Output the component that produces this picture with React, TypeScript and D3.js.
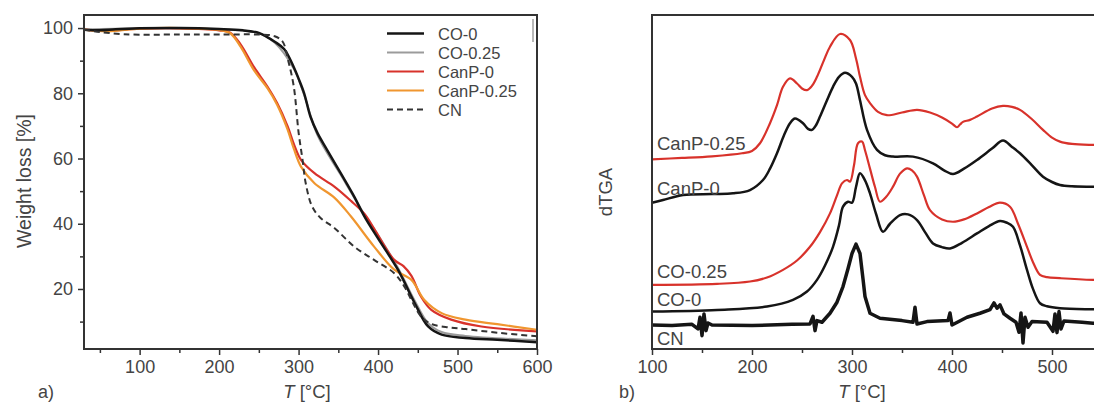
import React, { useEffect, useRef } from 'react';
import * as d3 from 'd3';

// a) weight loss [%] vs T [°C]
const co0Tga = [
  [30, 99.5], [50, 99.3], [70, 99.6], [100, 99.9], [150, 100], [200, 99.7], [230, 99.3],
  [250, 98.5], [260, 97.3], [270, 95.8], [282, 93.5], [294, 88], [300, 84.5], [307, 80],
  [315, 72.8], [324, 67.7], [336, 62.6], [353, 55.5], [370, 48.3], [383, 42.2], [400, 35.5],
  [425, 25.9], [446, 15.7], [463, 8.5], [480, 6.0], [510, 5.0], [550, 4.4], [600, 3.7],
];
const co025Tga = [
  [30, 99.5], [100, 99.9], [200, 99.6], [250, 98.4], [270, 95.5], [294, 87.5], [307, 79.5],
  [324, 67], [353, 55], [383, 42.8], [400, 36.5], [425, 26.5], [446, 16.5], [463, 9.5],
  [480, 6.8], [510, 5.6], [600, 4.3],
];
const canp0Tga = [
  [30, 99.5], [60, 99.2], [100, 99.8], [150, 99.9], [200, 99.3], [214, 98.6], [227, 95],
  [244, 88], [261, 82], [273, 77], [286, 70], [294, 64.5], [303, 59.6], [320, 55.5],
  [345, 51.4], [366, 47], [383, 43], [395, 38.5], [420, 29], [432, 27], [442, 24],
  [454, 17.7], [467, 13.6], [492, 10.6], [530, 8.5], [600, 7.0],
];
const canp025Tga = [
  [30, 99.5], [60, 99], [100, 99.8], [150, 100], [200, 99.4], [214, 98.4], [227, 94.3],
  [244, 87], [261, 81.5], [273, 76.5], [286, 69], [294, 63], [303, 57.5], [320, 52.4],
  [345, 48], [366, 42.2], [395, 33], [420, 26], [442, 22.8], [458, 16.7], [480, 12.6],
  [510, 10.6], [550, 9.2], [600, 7.5],
];
const cnTga = [
  [30, 99.5], [50, 98.8], [80, 98.1], [150, 98], [200, 98], [250, 98], [270, 97.5],
  [280, 95.8], [287, 90], [294, 82], [300, 68], [305, 59.6], [309, 52.4], [317, 45.3],
  [328, 41.7], [345, 38.7], [370, 33], [395, 28.9], [420, 24.9], [433, 20.8], [444, 15.7],
  [454, 11.6], [467, 9.3], [490, 8.2], [510, 7.7], [550, 6.6], [600, 5.5],
];

// b) dTGA, offset curves (arbitrary units, 0 = bottom of frame, 100 = top)
const canp025Dtg = [
  [100, 56.8], [130, 57.2], [160, 57.7], [190, 58.6], [200, 59.3], [208, 61.6], [218, 67.6],
  [225, 73], [231, 78.5], [238, 81], [245, 79.5], [250, 78], [255, 77.5], [260, 78.8],
  [265, 81.5], [272, 86.5], [278, 90.5], [288, 94.3], [298, 92.5], [304, 87], [308, 81.5],
  [313, 76], [318, 73.6], [326, 71], [335, 70], [350, 70.8], [365, 71.6], [378, 70.8],
  [390, 69.3], [400, 67.5], [405, 66.4], [408, 67.2], [411, 68], [418, 68.6], [425, 69.6],
  [440, 72], [451, 72.8], [460, 72.5], [468, 71.6], [480, 68.8], [491, 65.6], [500, 63.3],
  [508, 62.1], [520, 61.4], [541, 61.1], [600, 61],
];
const canp0Dtg = [
  [100, 43.8], [111, 44.6], [131, 46.1], [160, 46.4], [181, 46.6], [198, 47.6], [211, 50.6],
  [218, 54], [225, 58.6], [232, 64], [238, 67.6], [243, 69], [251, 67.6], [256, 65.9],
  [260, 65.6], [264, 67], [268, 69.6], [275, 74.5], [281, 78.5], [287, 81.5], [293, 82.7],
  [300, 81.5], [304, 79.5], [308, 74.5], [315, 65.6], [325, 59.6], [333, 58], [341, 57.6],
  [361, 57.6], [381, 55.6], [392, 53.5], [401, 52.4], [412, 54], [425, 56.6], [440, 60],
  [451, 62.4], [460, 60.5], [468, 58.6], [480, 55], [491, 51.6], [500, 50], [508, 49.1],
  [520, 48.7], [541, 48.6], [600, 48.6],
];
const co025Dtg = [
  [100, 19.2], [165, 19.5], [198, 20.2], [215, 21.4], [231, 23.7], [245, 26.5], [258, 30.6],
  [268, 35], [278, 40.6], [285, 46], [290, 49.6], [295, 50.6], [298, 50.1], [302, 55],
  [306, 61.6], [310, 62.1], [313, 59.5], [318, 54], [323, 48.5], [328, 44.1], [334, 45.5],
  [341, 48.6], [348, 52.5], [355, 54.1], [360, 53.5], [365, 51.6], [372, 46], [378, 41.6],
  [390, 38.8], [401, 38.1], [412, 38.8], [425, 40.6], [437, 42.5], [448, 43.8], [458, 42.6],
  [466, 37.5], [475, 30.6], [481, 26], [488, 22.2], [495, 21.5], [508, 21.2], [541, 20.7],
  [600, 20.6],
];
const co0Dtg = [
  [100, 11.2], [165, 11.7], [215, 12.7], [241, 14.7], [255, 17.2], [265, 20.7], [273, 25],
  [281, 30.6], [287, 37], [291, 42.6], [296, 44.1], [300, 43.8], [304, 48.5], [308, 52.6],
  [313, 50.5], [318, 46.6], [324, 40.5], [331, 35.1], [338, 37.5], [348, 40.1], [356, 40.3],
  [365, 38.6], [373, 35], [381, 31.6], [390, 30.5], [398, 30.1], [410, 31.8], [425, 34.6],
  [437, 36.8], [448, 38.3], [455, 37.8], [461, 36.6], [468, 31], [475, 23.7], [481, 18],
  [488, 13.7], [495, 12.8], [508, 12.2], [541, 11.9], [600, 11.8],
];
// noisy trace, spikes
const cnDtg = [
  [100, 7.2], [120, 7.0], [140, 7.4], [146, 6.0], [148, 9.5], [150, 4.0], [152, 10.5],
  [154, 5.5], [156, 7.8], [160, 7.2], [200, 7.0], [240, 7.4], [258, 7.5], [261, 9.8],
  [263, 5.5], [265, 8.5], [270, 8.0], [278, 10.7], [285, 14], [291, 18.7], [296, 24],
  [300, 28.6], [304, 31.4], [308, 28.6], [311, 21], [313, 15.7], [318, 10.7], [328, 9.2],
  [350, 8.5], [361, 8.0], [363, 12.5], [365, 7.5], [375, 8.2], [396, 8.5], [398, 10.8],
  [400, 7.2], [415, 9.5], [428, 10.7], [438, 11.8], [442, 13.8], [445, 12.2], [448, 13.2],
  [452, 10.5], [458, 9.2], [464, 8.0], [467, 5.0], [469, 10.8], [471, 1.8], [473, 9.5],
  [476, 6.5], [480, 8.2], [495, 8.0], [501, 5.3], [503, 10.5], [505, 4.9], [507, 11.2],
  [509, 6.0], [512, 8.4], [530, 8.0], [541, 7.7], [600, 7.7],
];

const tgaXTicks = [100, 200, 300, 400, 500, 600];
const tgaXMinor = [50, 150, 250, 350, 450, 550];
const tgaYTicks = [20, 40, 60, 80, 100];
const tgaYMinor = [10, 30, 50, 70, 90];
const dtgXTicks = [100, 200, 300, 400, 500];
const dtgXMinor = [150, 250, 350, 450, 550];

const legendNames = ['CO-0', 'CO-0.25', 'CanP-0', 'CanP-0.25', 'CN'];
const dtgNames = ['CanP-0.25', 'CanP-0', 'CO-0.25', 'CO-0', 'CN'];

const FONT = '"Liberation Sans", Arial, sans-serif';
const TXT = '#444';
const AX = '#333';
const BLACK = '#151515';
const GRAY = '#9b9b9b';
const RED = '#d8322b';
const ORANGE = '#f0962f';

export default function App() {
  const ref = useRef(null);

  useEffect(() => {
    const svg = d3.select(ref.current);
    svg.selectAll('*').remove();
    drawTga(svg);
    drawDtg(svg);
  });

  return (
    <svg
      ref={ref}
      width={1094}
      height={403}
      style={{ position: 'absolute', left: 0, top: 0, background: '#fff' }}
    />
  );
}

function styleAxis(g) {
  g.select('.domain').remove();
  g.selectAll('line').attr('stroke', AX).attr('stroke-width', 1.5);
  g.selectAll('text').attr('fill', TXT).attr('font-size', 18).attr('font-family', FONT);
}

function drawTga(svg) {
  const left = 84, right = 537, top = 15, bottom = 349;
  const x = d3.scaleLinear([30, 600], [left, right]);
  const y = d3.scaleLinear([1.6, 104], [bottom, top]);

  const g = svg.append('g');

  g.append('g')
    .attr('transform', `translate(0,${bottom})`)
    .call(d3.axisBottom(x).tickValues(tgaXMinor).tickSize(4).tickFormat(() => ''))
    .call(styleAxis);
  g.append('g')
    .attr('transform', `translate(0,${bottom})`)
    .call(d3.axisBottom(x).tickValues(tgaXTicks).tickSize(6).tickPadding(5))
    .call(styleAxis);
  g.append('g')
    .attr('transform', `translate(${left},0)`)
    .call(d3.axisLeft(y).tickValues(tgaYMinor).tickSize(4).tickFormat(() => ''))
    .call(styleAxis);
  g.append('g')
    .attr('transform', `translate(${left},0)`)
    .call(d3.axisLeft(y).tickValues(tgaYTicks).tickSize(6).tickPadding(5))
    .call(styleAxis);

  const line = d3
    .line()
    .curve(d3.curveCatmullRom.alpha(0.5))
    .x((d) => x(d[0]))
    .y((d) => y(d[1]));

  const series = [
    { data: co025Tga, color: GRAY, width: 2, dash: null },
    { data: canp0Tga, color: RED, width: 2.2, dash: null },
    { data: canp025Tga, color: ORANGE, width: 2.2, dash: null },
    { data: co0Tga, color: BLACK, width: 2.5, dash: null },
    { data: cnTga, color: '#333', width: 2, dash: '6,4' },
  ];
  series.forEach((s) => {
    g.append('path')
      .attr('fill', 'none')
      .attr('stroke', s.color)
      .attr('stroke-width', s.width)
      .attr('stroke-dasharray', s.dash)
      .attr('stroke-linejoin', 'round')
      .attr('d', line(s.data));
  });

  g.append('rect')
    .attr('x', left)
    .attr('y', top)
    .attr('width', right - left)
    .attr('height', bottom - top)
    .attr('fill', 'none')
    .attr('stroke', AX)
    .attr('stroke-width', 2);

  // legend
  const legendColors = [BLACK, GRAY, RED, ORANGE, '#333'];
  const leg = g.append('g').attr('transform', 'translate(387,33.5)');
  legendNames.forEach((name, i) => {
    const row = leg.append('g').attr('transform', `translate(0,${i * 19})`);
    row.append('line')
      .attr('x1', 0)
      .attr('x2', 37)
      .attr('stroke', legendColors[i])
      .attr('stroke-width', i === 0 ? 2.5 : 2)
      .attr('stroke-dasharray', i === 4 ? '6,4' : null);
    row.append('text')
      .attr('x', 51)
      .attr('y', 6)
      .attr('fill', TXT)
      .attr('font-size', 16.5)
      .attr('font-family', FONT)
      .text(name);
  });
  // small grey mark near the top right corner
  g.append('line')
    .attr('x1', 533).attr('x2', 533).attr('y1', 19).attr('y2', 42)
    .attr('stroke', '#a0a0a0').attr('stroke-width', 1.5);

  g.append('text')
    .attr('transform', 'translate(31,181) rotate(-90)')
    .attr('text-anchor', 'middle')
    .attr('fill', TXT)
    .attr('font-size', 19.5)
    .attr('font-family', FONT)
    .text('Weight loss [%]');

  axisTitle(g, 307, 398);
  g.append('text')
    .attr('x', 38).attr('y', 398)
    .attr('fill', TXT).attr('font-size', 18).attr('font-family', FONT)
    .text('a)');
}

function axisTitle(g, cx, by) {
  const t = g.append('text')
    .attr('x', cx).attr('y', by)
    .attr('text-anchor', 'middle')
    .attr('fill', TXT).attr('font-size', 18.5).attr('font-family', FONT);
  t.append('tspan').attr('font-style', 'italic').text('T');
  t.append('tspan').text(' [°C]');
}

function drawDtg(svg) {
  const left = 652, right = 1152, top = 15, bottom = 349;
  const x = d3.scaleLinear([100, 600], [left, right]);
  const y = d3.scaleLinear([0, 100], [bottom, top]);

  const g = svg.append('g');

  g.append('g')
    .attr('transform', `translate(0,${bottom})`)
    .call(d3.axisBottom(x).tickValues(dtgXMinor).tickSize(4).tickFormat(() => ''))
    .call(styleAxis);
  g.append('g')
    .attr('transform', `translate(0,${bottom})`)
    .call(d3.axisBottom(x).tickValues(dtgXTicks).tickSize(6).tickPadding(5))
    .call(styleAxis);

  const smooth = d3
    .line()
    .curve(d3.curveCatmullRom.alpha(0.5))
    .x((d) => x(d[0]))
    .y((d) => y(d[1]));
  const raw = d3
    .line()
    .x((d) => x(d[0]))
    .y((d) => y(d[1]));

  const series = [
    { data: canp025Dtg, color: RED, width: 2.2, gen: smooth },
    { data: canp0Dtg, color: BLACK, width: 2.5, gen: smooth },
    { data: co025Dtg, color: RED, width: 2.2, gen: smooth },
    { data: co0Dtg, color: BLACK, width: 2.5, gen: smooth },
    { data: cnDtg, color: BLACK, width: 3.5, gen: raw },
  ];
  series.forEach((s) => {
    g.append('path')
      .attr('fill', 'none')
      .attr('stroke', s.color)
      .attr('stroke-width', s.width)
      .attr('stroke-linejoin', 'round')
      .attr('d', s.gen(s.data));
  });

  g.append('path')
    .attr('fill', 'none')
    .attr('stroke', AX)
    .attr('stroke-width', 2)
    .attr('d', `M${right},${top}H${left}V${bottom}H${right}`);

  // labels sit just above each curve's flat start
  const labelY = [150, 195, 278, 306, 345];
  dtgNames.forEach((name, i) => {
    g.append('text')
      .attr('x', 657)
      .attr('y', labelY[i])
      .attr('fill', TXT)
      .attr('font-size', 18.5)
      .attr('font-family', FONT)
      .text(name);
  });

  g.append('text')
    .attr('transform', 'translate(612,192) rotate(-90)')
    .attr('text-anchor', 'middle')
    .attr('fill', TXT)
    .attr('font-size', 18.5)
    .attr('font-family', FONT)
    .text('dTGA');

  axisTitle(g, 862, 398);
  g.append('text')
    .attr('x', 619).attr('y', 398)
    .attr('fill', TXT).attr('font-size', 18).attr('font-family', FONT)
    .text('b)');
}
